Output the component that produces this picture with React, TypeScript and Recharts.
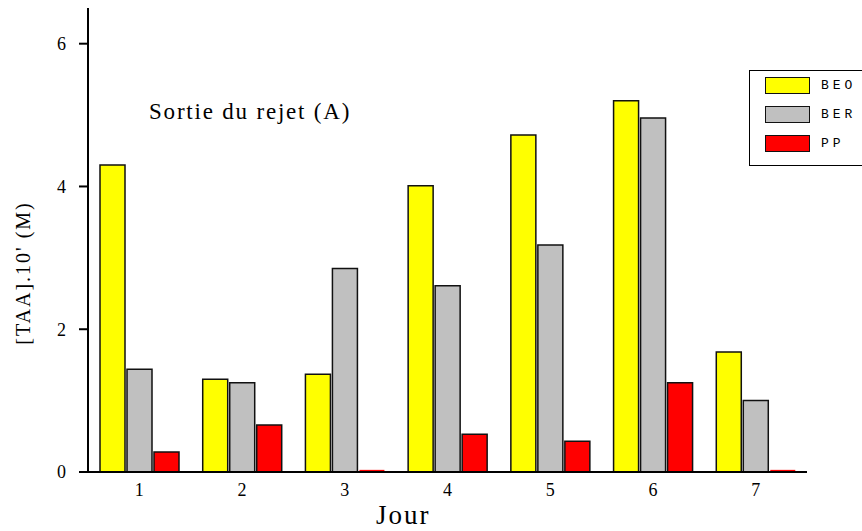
import { BarChart, Bar, XAxis, YAxis, Cell } from "recharts";

const days = ["1", "2", "3", "4", "5", "6", "7"];
const beo = [4.3, 1.3, 1.37, 4.01, 4.72, 5.2, 1.68];
const ber = [1.44, 1.25, 2.85, 2.61, 3.18, 4.96, 1.0];
const pp = [0.28, 0.66, 0.03, 0.53, 0.43, 1.25, 0.03];
const yTicks = [0, 2, 4, 6];

const series = [
  { key: "beo", name: "BEO", color: "#ffff00" },
  { key: "ber", name: "BER", color: "#c0c0c0" },
  { key: "pp", name: "PP", color: "#ff0000" },
];

const data = days.map((d, i) => ({ day: d, beo: beo[i], ber: ber[i], pp: pp[i] }));

const SERIF = "'Liberation Serif', 'DejaVu Serif', serif";

function YLabel() {
  const x = 25;
  const y = 273;
  return (
    <text x={x} y={y} transform={`rotate(-90, ${x}, ${y})`} textAnchor="middle" dominantBaseline="middle"
      fontFamily={SERIF} fontSize={20} fill="#000" style={{ letterSpacing: 2 }}>
      [TAA].10' (M)
    </text>
  );
}

export default function App() {
  return (
    <div style={{ position: "absolute", left: 0, top: 0, width: 862, height: 531, overflow: "hidden", background: "#fff" }}>
      <BarChart width={862} height={531} data={data} barSize={25} barGap={2}
        margin={{ top: 8, right: 55, bottom: 28, left: 0 }}>
        <XAxis dataKey="day" axisLine={{ stroke: "#000", strokeWidth: 2 }} tickLine={false} tickSize={0} tickMargin={11}
          tick={{ fontFamily: SERIF, fontSize: 18, fill: "#000" }} height={31} />
        <YAxis domain={[0, 6.5]} ticks={yTicks} width={88} axisLine={{ stroke: "#000", strokeWidth: 2 }}
          tickLine={{ stroke: "#000", strokeWidth: 2 }} tickSize={9} tickMargin={13}
          tick={{ fontFamily: SERIF, fontSize: 18, fill: "#000" }} label={<YLabel />} />
        {series.map((s) => (
          <Bar key={s.key} dataKey={s.key} fill={s.color} stroke="#111" strokeWidth={1.5} isAnimationActive={false}>
            {data.map((row: any, i) => (
              <Cell key={i} stroke={row[s.key] < 0.05 ? "none" : "#111"} />
            ))}
          </Bar>
        ))}
      </BarChart>
      <div style={{ position: "absolute", left: 149, top: 99, fontFamily: SERIF, fontSize: 23, lineHeight: "26px", color: "#000", whiteSpace: "nowrap", letterSpacing: 1.8 }}>
        Sortie du rejet (A)
      </div>
      <div style={{ position: "absolute", left: 376, top: 500, fontFamily: SERIF, fontSize: 27, lineHeight: "30px", color: "#000", letterSpacing: 2 }}>
        Jour
      </div>
      <div style={{ position: "absolute", left: 749, top: 70, width: 130, height: 96, border: "1.5px solid #000", boxSizing: "border-box" }}>
        {series.map((s, i) => (
          <div key={s.key} style={{ position: "absolute", left: 15, top: 6 + i * 29, display: "flex", alignItems: "center" }}>
            <div style={{ width: 45, height: 17, background: s.color, border: "1.5px solid #111", boxSizing: "border-box" }} />
            <span style={{ marginLeft: 11, fontFamily: "'Liberation Mono', monospace", fontSize: 13, letterSpacing: 4, color: "#000" }}>{s.name}</span>
          </div>
        ))}
      </div>
    </div>
  );
}
